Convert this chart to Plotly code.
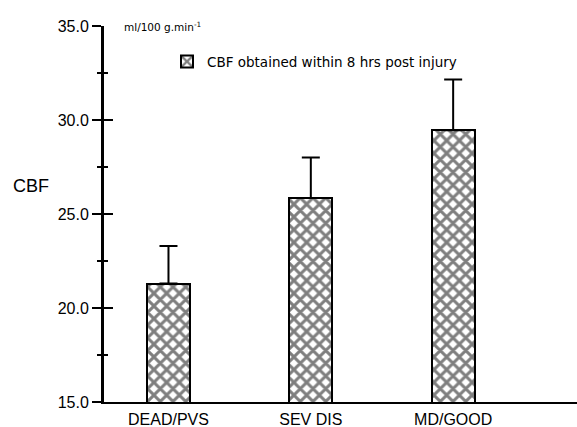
import plotly.graph_objects as go

categories = ["DEAD/PVS", "SEV DIS", "MD/GOOD"]
cbf_means = [21.3, 25.85, 29.45]
cbf_sem = [2.0, 2.15, 2.7]
y_ticks = [15.0, 20.0, 25.0, 30.0, 35.0]
y_tick_labels = ["15.0", "20.0", "25.0", "30.0", "35.0"]
series_name = "CBF obtained within 8 hrs post injury"

positions = list(range(len(categories)))

fig = go.Figure()
fig.add_trace(go.Bar(
    x=positions, y=cbf_means,
    width=0.3,
    name=series_name,
    marker=dict(color="white", line=dict(color="black", width=2),
                pattern=dict(shape="x", fgcolor="black", bgcolor="white",
                             size=9, solidity=0.55, fillmode="overlay")),
    error_y=dict(type="data", symmetric=False, array=cbf_sem,
                 arrayminus=[0] * len(cbf_sem), color="black",
                 thickness=2, width=9),
    showlegend=True,
))
# invisible helper trace so the tick-crossing axis is drawn
fig.add_trace(go.Scatter(x=positions, y=cbf_means, yaxis="y2",
                         mode="markers", marker=dict(opacity=0),
                         showlegend=False, hoverinfo="skip"))

fig.update_layout(
    width=577, height=427,
    margin=dict(l=103, r=0, t=26, b=25),
    paper_bgcolor="white", plot_bgcolor="white",
    font=dict(family="Liberation Sans, Arial", color="black"),
    bargap=0,
    xaxis=dict(range=[-0.46, 2.87], tickmode="array", tickvals=positions,
               ticktext=categories, showline=True, linecolor="black",
               linewidth=2, ticks="", showgrid=False, zeroline=False,
               tickfont=dict(size=16), ticklabelstandoff=2,
               automargin=False),
    yaxis=dict(range=[15, 35], tickmode="array", tickvals=y_ticks,
               ticktext=y_tick_labels, showline=True, linecolor="black",
               linewidth=2, ticks="outside", ticklen=9, tickwidth=1.5,
               tickcolor="black", showgrid=False, zeroline=False,
               tickfont=dict(size=16), automargin=False,
               minor=dict(tickmode="linear", tick0=15, dtick=2.5,
                          ticks="outside", ticklen=4, tickwidth=1.5,
                          tickcolor="black", showgrid=False)),
    yaxis2=dict(range=[15, 35], overlaying="y", anchor="free", position=0,
                side="left", automargin=False,
                tickmode="array", tickvals=y_ticks, showticklabels=False,
                showline=True, linecolor="black", linewidth=2,
                ticks="inside", ticklen=9, tickwidth=1.5,
                tickcolor="black", showgrid=False, zeroline=False,
                minor=dict(tickmode="linear", tick0=15, dtick=2.5,
                           ticks="inside", ticklen=4, tickwidth=1.5,
                           tickcolor="black", showgrid=False)),
    legend=dict(x=0.135, y=0.905, xanchor="left", yanchor="middle",
                bgcolor="rgba(0,0,0,0)",
                font=dict(family="DejaVu Sans", size=13.5)),
    annotations=[
        dict(text="CBF", xref="paper", yref="paper", x=-0.194, y=0.575,
             xanchor="left", yanchor="middle", showarrow=False,
             font=dict(size=18)),
        dict(text="ml/100 g.min<sup>-1</sup>", xref="paper", yref="paper",
             x=0.04, y=1.0, xanchor="left", yanchor="middle",
             showarrow=False, font=dict(family="DejaVu Sans", size=10.5)),
    ],
)

fig.write_html("out.html",
               config={"displayModeBar": False},
               post_script="document.body.style.margin='0';")
